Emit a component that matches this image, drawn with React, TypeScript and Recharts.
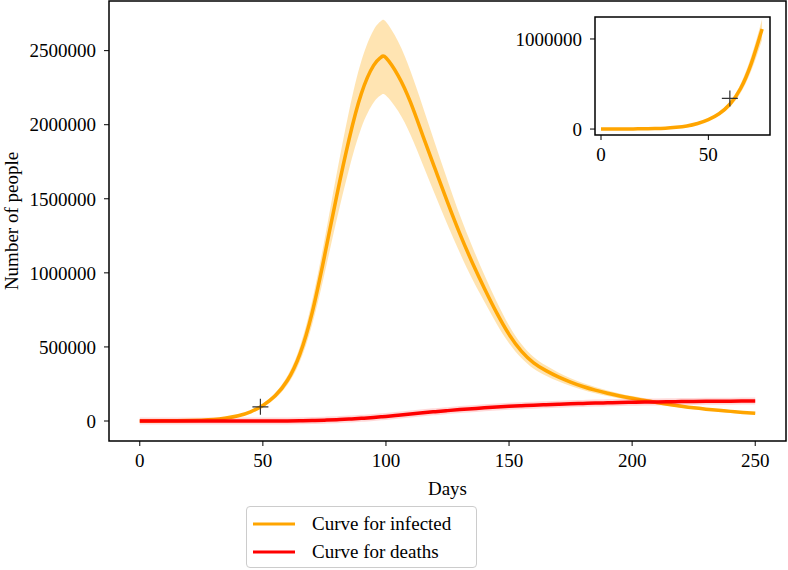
import React from 'react';
import {
  ComposedChart,
  Line,
  Area,
  Scatter,
  XAxis,
  YAxis,
  ReferenceArea,
  Legend,
} from 'recharts';

const FONT = "'Liberation Serif', 'DejaVu Serif', serif";
const ORANGE = '#FFA500';
const RED = '#FF0000';

// days
const days = [
  0, 5, 10, 15, 20, 25, 30, 35, 40, 45, 50, 55, 60, 65, 70, 75, 80, 85, 90, 95, 98,
  100, 105, 110, 115, 120, 125, 130, 135, 140, 145, 150, 155, 160, 165, 170, 175, 180,
  185, 190, 195, 200, 205, 210, 215, 220, 225, 230, 235, 240, 245, 250,
];

const infected = [
  300, 500, 900, 1700, 3000, 5500, 10000, 20000, 35000, 62000, 105000, 170000, 275000,
  450000, 730000, 1110000, 1520000, 1900000, 2210000, 2400000, 2455000,
  2452000, 2330000, 2150000, 1925000, 1700000, 1478000, 1265000, 1072000, 895000, 730000,
  585000, 472000, 393000, 340000, 298000, 263000, 233000, 208000, 187000, 169000, 153000,
  139000, 125000, 112000, 100000, 89000, 80000, 72000, 65000, 58000, 52000,
];

const infectedHigh = [
  330, 550, 1000, 1900, 3300, 6000, 11000, 22000, 39000, 69000, 117000, 190000, 305000,
  500000, 810000, 1220000, 1670000, 2090000, 2430000, 2640000, 2700000,
  2695000, 2560000, 2360000, 2120000, 1870000, 1625000, 1390000, 1180000, 985000, 805000,
  645000, 520000, 432000, 374000, 328000, 289000, 256000, 229000, 206000, 186000, 168000,
  153000, 137000, 123000, 110000, 98000, 88000, 79000, 71000, 64000, 57000,
];

const infectedLow = [
  270, 450, 800, 1500, 2700, 5000, 9000, 18000, 31000, 55000, 94000, 152000, 245000,
  400000, 650000, 990000, 1360000, 1700000, 1980000, 2150000, 2200000,
  2197000, 2090000, 1930000, 1730000, 1525000, 1325000, 1135000, 960000, 805000, 655000,
  525000, 425000, 353000, 306000, 268000, 237000, 210000, 187000, 168000, 152000, 138000,
  125000, 113000, 101000, 90000, 80000, 72000, 65000, 59000, 52000, 47000,
];

const deaths = [
  0, 0, 0, 0, 0, 0, 0, 0, 0, 0, 0, 300, 800, 1800, 3500, 5800, 9000, 13000, 18000, 24000,
  28000, 31000, 39000, 47000, 55000, 63000, 70000, 77000, 83000, 89000, 94000, 99000,
  103000, 107000, 110000, 113000, 116000, 118500, 121000, 123000, 125000, 126500, 128000,
  129000, 130000, 131000, 132000, 132800, 133500, 134000, 134500, 135000,
];

const dayTicks = [0, 50, 100, 150, 200, 250];
const peopleTicks = [0, 500000, 1000000, 1500000, 2000000, 2500000];
const insetDayTicks = [0, 50];
const insetPeopleTicks = [0, 1000000];

const mainMarker = [{ day: 49, value: 96000 }];
const insetMarker = [{ day: 60, value: 340000 }];

const seriesOrder = ['Curve for infected', 'Curve for deaths'];

const data = days.map((d, i) => ({
  day: d,
  infected: infected[i],
  band: [infectedLow[i], infectedHigh[i]],
  deaths: deaths[i],
}));
const insetData = data.filter((p) => p.day <= 75);

const tickStyle = { fill: '#000', fontSize: 19, fontFamily: FONT };

function Plus(props: any) {
  const { cx, cy } = props;
  return (
    <path
      d={`M${cx - 8},${cy}H${cx + 8}M${cx},${cy - 8}V${cy + 8}`}
      stroke="#333"
      strokeWidth={1.2}
      fill="none"
    />
  );
}

function renderLegend(props: any) {
  const items = (props.payload || [])
    .filter((p: any) => p.type !== 'none')
    .sort((a: any, b: any) => seriesOrder.indexOf(a.value) - seriesOrder.indexOf(b.value));
  return (
    <div
      style={{
        border: '1px solid #ccc',
        borderRadius: 4,
        background: '#fff',
        padding: '3px 8px 1px 6px',
        fontFamily: FONT,
        fontSize: 19,
        color: '#000',
        boxSizing: 'border-box',
      }}
    >
      {items.map((entry: any) => (
        <div key={entry.value} style={{ display: 'flex', alignItems: 'center', height: 28 }}>
          <svg width={42} height={6} style={{ marginRight: 17 }}>
            <line x1={0} y1={3} x2={42} y2={3} stroke={entry.color} strokeWidth={3} />
          </svg>
          <span>{entry.value}</span>
        </div>
      ))}
    </div>
  );
}

function YLabel(props: any) {
  const { viewBox } = props;
  const x = viewBox.x + 11;
  const y = viewBox.y + viewBox.height / 2;
  return (
    <text
      x={x}
      y={y}
      transform={`rotate(-90, ${x}, ${y})`}
      textAnchor="middle"
      dominantBaseline="central"
      fill="#000"
      fontSize={19}
      fontFamily={FONT}
    >
      Number of people
    </text>
  );
}

export default function App() {
  return (
    <div style={{ position: 'absolute', left: 0, top: 0, width: 788, height: 570, background: '#fff' }}>
      <ComposedChart width={788} height={570} data={data} margin={{ top: 1, right: 2, bottom: 0, left: 0 }}>
        <XAxis
          dataKey="day"
          type="number"
          domain={[-12.5, 262.5]}
          ticks={dayTicks}
          allowDataOverflow
          height={129}
          tickSize={5}
          tickMargin={8}
          axisLine={false}
          tickLine={{ stroke: '#000' }}
          tick={tickStyle}
          label={{ value: 'Days', position: 'insideTop', offset: 41, fill: '#000', fontSize: 19, fontFamily: FONT }}
        />
        <YAxis
          type="number"
          domain={[-135000, 2835000]}
          ticks={peopleTicks}
          allowDataOverflow
          width={109}
          tickSize={5}
          tickMargin={8}
          axisLine={false}
          tickLine={{ stroke: '#000' }}
          tick={tickStyle}
          label={<YLabel />}
        />
        <Area
          type="natural"
          dataKey="band"
          stroke="none"
          fill={ORANGE}
          fillOpacity={0.3}
          legendType="none"
          isAnimationActive={false}
        />
        <Line
          type="natural"
          dataKey="infected"
          name="Curve for infected"
          stroke={ORANGE}
          strokeWidth={3.5}
          dot={false}
          isAnimationActive={false}
        />
        <Line
          type="natural"
          dataKey="deaths"
          stroke={RED}
          strokeOpacity={0.15}
          strokeWidth={7}
          dot={false}
          legendType="none"
          isAnimationActive={false}
        />
        <Line
          type="natural"
          dataKey="deaths"
          name="Curve for deaths"
          stroke={RED}
          strokeWidth={3.5}
          dot={false}
          isAnimationActive={false}
        />
        <Scatter data={mainMarker} dataKey="value" shape={<Plus />} legendType="none" isAnimationActive={false} />
        <ReferenceArea x1={-12.5} x2={262.5} y1={-135000} y2={2835000} fill="none" stroke="#000" strokeWidth={1.5} />
        <Legend
          layout="vertical"
          align="center"
          verticalAlign="middle"
          content={renderLegend}
          wrapperStyle={{ left: 246, top: 506, width: 231 }}
        />
      </ComposedChart>

      <div style={{ position: 'absolute', left: 500, top: 0 }}>
        <ComposedChart width={272} height={170} data={insetData} margin={{ top: 17, right: 2, bottom: 0, left: 0 }}>
          <XAxis
            dataKey="day"
            type="number"
            domain={[-2.8, 78.7]}
            ticks={insetDayTicks}
            allowDataOverflow
            height={35}
            tickSize={5}
            tickMargin={8}
            axisLine={false}
            tickLine={{ stroke: '#000' }}
            tick={tickStyle}
          />
          <YAxis
            type="number"
            domain={[-66000, 1244000]}
            ticks={insetPeopleTicks}
            allowDataOverflow
            width={95}
            tickSize={5}
            tickMargin={8}
            axisLine={false}
            tickLine={{ stroke: '#000' }}
            tick={tickStyle}
          />
          <Area
            type="natural"
            dataKey="band"
            stroke="none"
            fill={ORANGE}
            fillOpacity={0.3}
            isAnimationActive={false}
          />
          <Line
            type="natural"
            dataKey="infected"
            stroke={ORANGE}
            strokeWidth={3.5}
            dot={false}
            isAnimationActive={false}
          />
          <Scatter data={insetMarker} dataKey="value" shape={<Plus />} isAnimationActive={false} />
          <ReferenceArea x1={-2.8} x2={78.7} y1={-66000} y2={1244000} fill="none" stroke="#000" strokeWidth={1.5} />
        </ComposedChart>
      </div>
    </div>
  );
}
